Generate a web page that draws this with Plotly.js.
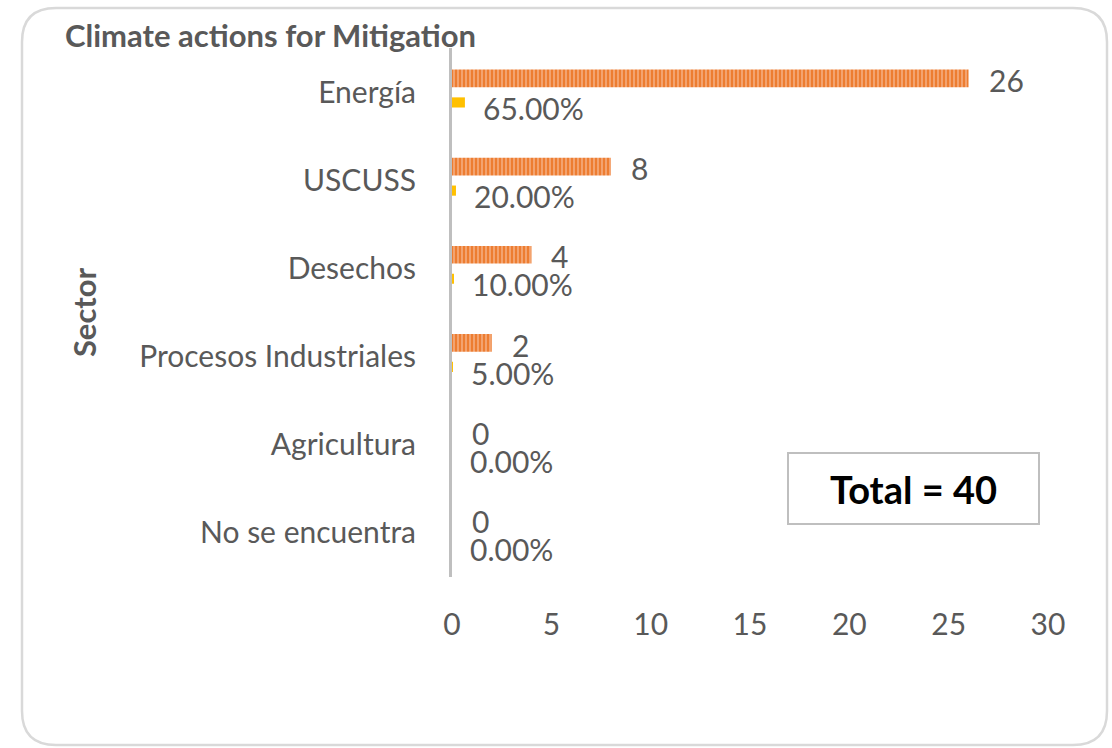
<!DOCTYPE html>
<html>
<head>
<meta charset="utf-8">
<script src="https://cdn.plot.ly/plotly-3.0.1.min.js"></script>
<style>
  html, body { margin: 0; padding: 0; background: #ffffff; }
  #chart { width: 1112px; height: 748px; }
</style>
</head>
<body>
<div id="chart"></div>
<script>
// ---- data ----
var categories = ['Energía', 'USCUSS', 'Desechos', 'Procesos Industriales', 'Agricultura', 'No se encuentra'];
var counts = [26, 8, 4, 2, 0, 0];
var shares = [0.65, 0.20, 0.10, 0.05, 0.00, 0.00];
var xTicks = [0, 5, 10, 15, 20, 25, 30];
var totalCount = 40;

// ---- layout helpers (pixel -> paper) ----
var W = 1112, H = 748;
var M = { l: 452, r: 64, t: 48, b: 171 };
var PW = W - M.l - M.r, PH = H - M.t - M.b;
function px(x) { return (x - M.l) / PW; }
function py(y) { return (H - M.b - y) / PH; }

var FONT = 'Lato, "Open Sans", sans-serif';
var GREY = '#595959';
var LBL = 30;

var pctLabels = shares.map(function (s) { return (s * 100).toFixed(2) + '%'; });

var traceCount = {
  type: 'bar', orientation: 'h', name: 'Count',
  y: categories, x: counts,
  width: 0.2, offset: -0.255,
  marker: {
    color: '#ED7D31',
    line: { width: 0 },
    pattern: { shape: '|', fgcolor: '#F6B48A', bgcolor: '#ED7D31', size: 4, solidity: 0.35 }
  },
  hoverinfo: 'x+y'
};
var traceShare = {
  type: 'bar', orientation: 'h', name: 'Share',
  y: categories, x: shares,
  width: 0.115, offset: 0.06,
  marker: { color: '#FFC000', line: { width: 0 } },
  hoverinfo: 'x+y'
};

var annotations = [];
categories.forEach(function (c, i) {
  annotations.push({
    x: counts[i], y: c, xref: 'x', yref: 'y',
    text: String(counts[i]), showarrow: false,
    xanchor: 'left', yanchor: 'middle', xshift: 18, yshift: 12,
    font: { family: FONT, size: LBL, color: GREY }
  });
  annotations.push({
    x: shares[i], y: c, xref: 'x', yref: 'y',
    text: pctLabels[i], showarrow: false,
    xanchor: 'left', yanchor: 'middle', xshift: 16, yshift: -16,
    font: { family: FONT, size: LBL, color: GREY }
  });
});
annotations.push({
  x: px(913), y: py(488.5), xref: 'paper', yref: 'paper',
  text: '<b>Total = ' + totalCount + '</b>', showarrow: false,
  xanchor: 'center', yanchor: 'middle',
  width: 249, height: 69, align: 'center', valign: 'middle',
  bordercolor: '#BFBFBF', borderwidth: 2, borderpad: 0, bgcolor: '#ffffff',
  font: { family: FONT, size: 38, color: '#000000' }
});

// outer rounded border
var L = 22, R = 1107, T = 8, B = 745, rad = 34;
var path = 'M ' + px(L + rad) + ',' + py(T) +
  ' L ' + px(R - rad) + ',' + py(T) +
  ' Q ' + px(R) + ',' + py(T) + ' ' + px(R) + ',' + py(T + rad) +
  ' L ' + px(R) + ',' + py(B - rad) +
  ' Q ' + px(R) + ',' + py(B) + ' ' + px(R - rad) + ',' + py(B) +
  ' L ' + px(L + rad) + ',' + py(B) +
  ' Q ' + px(L) + ',' + py(B) + ' ' + px(L) + ',' + py(B - rad) +
  ' L ' + px(L) + ',' + py(T + rad) +
  ' Q ' + px(L) + ',' + py(T) + ' ' + px(L + rad) + ',' + py(T) + ' Z';

var layout = {
  width: W, height: H,
  margin: M,
  paper_bgcolor: '#ffffff', plot_bgcolor: '#ffffff',
  showlegend: false,
  barmode: 'overlay',
  font: { family: FONT, color: GREY },
  title: {
    text: '<b>Climate actions for Mitigation</b>',
    x: 65 / W, xref: 'container', xanchor: 'left',
    y: 1 - 36 / H, yref: 'container', yanchor: 'middle',
    font: { family: FONT, size: 31, color: GREY }
  },
  xaxis: {
    range: [0, 30], tickvals: xTicks, ticktext: xTicks.map(String),
    showgrid: false, zeroline: false, showline: false, ticks: '',
    ticklabelstandoff: 27,
    tickfont: { family: FONT, size: LBL, color: GREY },
    fixedrange: true
  },
  yaxis: {
    type: 'category', categoryorder: 'array', categoryarray: categories,
    autorange: 'reversed',
    showgrid: false, zeroline: false,
    showline: true, linecolor: '#BFBFBF', linewidth: 3,
    ticks: '', ticklabelstandoff: 27,
    tickfont: { family: FONT, size: LBL, color: GREY },
    title: { text: '<b>Sector</b>', standoff: 34, font: { family: FONT, size: 31, color: GREY } },
    fixedrange: true
  },
  annotations: annotations,
  shapes: [{
    type: 'path', xref: 'paper', yref: 'paper', path: path,
    line: { color: '#D9D9D9', width: 2.5 }, fillcolor: 'rgba(0,0,0,0)', layer: 'below'
  }]
};

Plotly.newPlot('chart', [traceCount, traceShare], layout, { displayModeBar: false, staticPlot: true });
</script>
</body>
</html>
